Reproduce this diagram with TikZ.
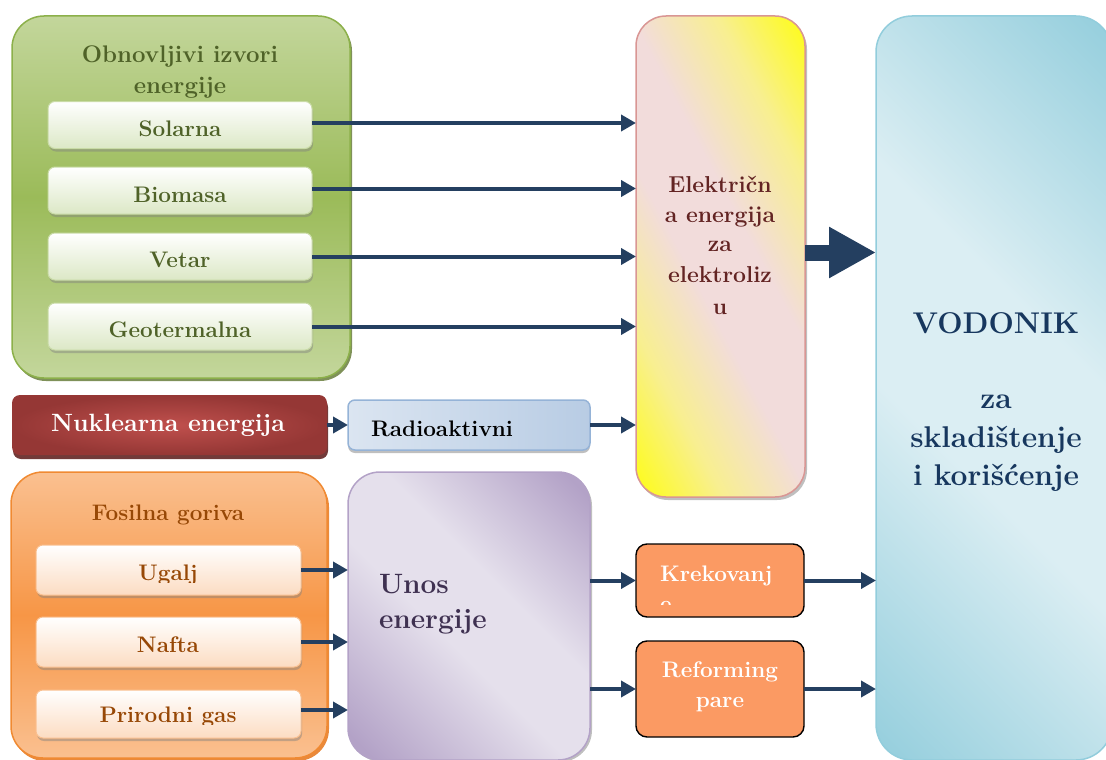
\documentclass[tikz,border=0pt]{standalone}
\usetikzlibrary{arrows.meta,shadows}
\definecolor{arrowc}{HTML}{243F60}
\definecolor{gtop}{HTML}{C3D69B}
\definecolor{gmid}{HTML}{9BBB59}
\definecolor{gedge}{HTML}{8CB04A}
\definecolor{gshad}{HTML}{5F7530}
\definecolor{gbot}{HTML}{DCE8C6}
\definecolor{giedge}{HTML}{C9DBA6}
\definecolor{gtext}{HTML}{4F6228}
\definecolor{nukout}{HTML}{953735}
\definecolor{nukin}{HTML}{C0504D}
\definecolor{nukshad}{HTML}{632523}
\definecolor{radl}{HTML}{DBE5F1}
\definecolor{radd}{HTML}{B8CCE4}
\definecolor{radedge}{HTML}{95B3D7}
\definecolor{ftop}{HTML}{FAC090}
\definecolor{fmid}{HTML}{F79646}
\definecolor{fedge}{HTML}{F08A32}
\definecolor{fshad}{HTML}{E46C0A}
\definecolor{fbot}{HTML}{FCDCC2}
\definecolor{fiedge}{HTML}{FAC090}
\definecolor{ftext}{HTML}{974806}
\definecolor{ud}{HTML}{B3A2C7}
\definecolor{ul}{HTML}{E5E0EC}
\definecolor{utext}{HTML}{3F3151}
\definecolor{ylw}{HTML}{FFFF00}
\definecolor{ylw2}{HTML}{F8EF90}
\definecolor{pnk}{HTML}{F2DCDB}
\definecolor{eedge}{HTML}{D99694}
\definecolor{etext}{HTML}{632423}
\definecolor{vd}{HTML}{92CDDC}
\definecolor{vl}{HTML}{DBEEF3}
\definecolor{vtext}{HTML}{17375E}
\definecolor{krekc}{HTML}{FB9A63}
\pgfdeclarehorizontalshading{elecshade}{100bp}{color(0bp)=(ylw); color(14bp)=(ylw); color(30bp)=(ylw2); color(44bp)=(pnk); color(56bp)=(pnk); color(70bp)=(ylw2); color(86bp)=(ylw); color(100bp)=(ylw)}
\pgfdeclarehorizontalshading{unosshade}{100bp}{color(0bp)=(ud); color(18bp)=(ud); color(44bp)=(ul); color(58bp)=(ul); color(82bp)=(ud); color(100bp)=(ud)}
\pgfdeclarehorizontalshading{vodshade}{100bp}{color(0bp)=(vd); color(14bp)=(vd); color(42bp)=(vl); color(58bp)=(vl); color(86bp)=(vd); color(100bp)=(vd)}
\newcommand\fntTitle{\fontsize{24}{28}\selectfont\bfseries}
\newcommand\fntItem{\fontsize{22.5}{26}\selectfont\bfseries}
\newcommand\fntNuk{\fontsize{25}{30}\selectfont\bfseries}
\newcommand\fntEl{\fontsize{23}{28}\selectfont\bfseries}
\newcommand\fntUnos{\fontsize{28}{32}\selectfont\bfseries}
\newcommand\fntVod{\fontsize{30}{34}\selectfont\bfseries}
\begin{document}
\begin{tikzpicture}[x=1pt,y=-1pt,
  every node/.style={inner sep=0pt,outer sep=0pt},
  arr/.style={draw=arrowc,line width=4pt,-{Triangle[length=15pt,width=16pt]}},
  bigarr/.style={draw=arrowc,line width=16pt,-{Triangle[length=47pt,width=48pt]}},
  gitem/.style={rounded corners=7pt,draw=giedge,line width=1pt,top color=white,bottom color=gbot,
    minimum width=264pt,minimum height=47pt,
    drop shadow={shadow xshift=1pt,shadow yshift=-3pt,fill=gray,opacity=.45}},
  fitem/.style={rounded corners=7pt,draw=fiedge,line width=1pt,top color=white,bottom color=fbot,
    minimum width=265pt,minimum height=50pt,
    drop shadow={shadow xshift=1pt,shadow yshift=-3pt,fill=gray,opacity=.45}},
  gtxt/.style={anchor=base,font=\fntItem,text=gtext},
  ftxt/.style={anchor=base,font=\fntItem,text=ftext},
  etxt/.style={anchor=base,font=\fntEl,text=etext},
  vtxt/.style={anchor=base,font=\fntVod,text=vtext},
  wtxt/.style={anchor=base,font=\fntItem,text=white},
  orbox/.style={rounded corners=11pt,draw=black,line width=1.4pt,fill=krekc,minimum width=168pt}
]
\useasboundingbox (0,0) rectangle (1106,760);

% ---------- green group ----------
\node[rounded corners=32pt,draw=gedge,line width=1.5pt,top color=gtop,bottom color=gtop,middle color=gmid,
  minimum width=338pt,minimum height=362pt,
  drop shadow={shadow xshift=2pt,shadow yshift=-3pt,fill=gshad,opacity=.8}] (green) at (181,197) {};
\node[anchor=base,font=\fntTitle,text=gtext] (gT1) at (180,63) {Obnovljivi izvori};
\node[anchor=base,font=\fntTitle,text=gtext] (gT2) at (180,93) {energije};
\node[gitem] (sol) at (180,125) {};
\node[gitem] (bio) at (180,190.5) {};
\node[gitem] (vet) at (180,256.5) {};
\node[gitem] (geo) at (180,326.5) {};
\node[gtxt] (solT) at (180,136) {Solarna};
\node[gtxt] (bioT) at (180,202) {Biomasa};
\node[gtxt] (vetT) at (180,267) {Vetar};
\node[gtxt] (geoT) at (180,337) {Geotermalna};

% ---------- nuclear ----------
\node[rounded corners=8pt,inner color=nukin,outer color=nukout,minimum width=315pt,minimum height=60pt,
  drop shadow={shadow xshift=1pt,shadow yshift=-4pt,fill=nukshad,opacity=.9}] (nuk) at (169.5,425) {};
\node[anchor=base,font=\fntNuk,text=white] (nukT) at (168,431) {Nuklearna energija};
\node[rounded corners=7pt,draw=radedge,line width=1.5pt,left color=radl,right color=radd,
  minimum width=242pt,minimum height=50pt,
  drop shadow={shadow xshift=0pt,shadow yshift=-3pt,fill=gray,opacity=.5}] (rad) at (469,425) {};
\node[anchor=base west,font=\fntItem,text=black] (radT) at (371,436) {Radioaktivni};

% ---------- fossil ----------
\node[rounded corners=32pt,draw=fedge,line width=1.5pt,top color=ftop,bottom color=ftop,middle color=fmid,
  minimum width=316pt,minimum height=286pt,
  drop shadow={shadow xshift=2pt,shadow yshift=-3pt,fill=fshad,opacity=.8}] (fos) at (169,615) {};
\node[ftxt] (fosT) at (168,520) {Fosilna goriva};
\node[fitem] (uga) at (168.5,570) {};
\node[fitem] (naf) at (168.5,642) {};
\node[fitem,minimum height=48pt] (pri) at (168.5,714) {};
\begin{scope}
  \clip (36,545) rectangle (301,582);
  \node[ftxt] (ugaT) at (168,580) {Ugalj};
\end{scope}
\node[ftxt] (nafT) at (168,652) {Nafta};
\begin{scope}
  \clip (36,690) rectangle (301,724);
  \node[ftxt] (priT) at (168,722) {Prirodni gas};
\end{scope}

% ---------- unos ----------
\node[rounded corners=32pt,draw=ud,line width=1.5pt,shade,shading=unosshade,shading angle=45,
  minimum width=242pt,minimum height=288pt,
  drop shadow={shadow xshift=2pt,shadow yshift=-2pt,fill=gray,opacity=.5}] (unos) at (469,616) {};
\node[anchor=base west,font=\fntUnos,text=utext] (unosT1) at (379,593) {Unos};
\node[anchor=base west,font=\fntUnos,text=utext] (unosT2) at (379,628) {energije};

% ---------- elektricna ----------
\node[rounded corners=30pt,draw=eedge,line width=1.5pt,shade,shading=elecshade,shading angle=28,
  minimum width=169pt,minimum height=481pt,
  drop shadow={shadow xshift=2pt,shadow yshift=-3pt,fill=gray,opacity=.5}] (elec) at (720.5,256.5) {};
\node[etxt] (eT1) at (720,192) {Električn};
\node[etxt] (eT2) at (720,222) {a energija};
\node[etxt] (eT3) at (720,251) {za};
\node[etxt] (eT4) at (720,282) {elektroliz};
\node[etxt] (eT5) at (720,314) {u};

% ---------- vodonik ----------
\node[rounded corners=36pt,draw=vd,line width=1.5pt,shade,shading=vodshade,shading angle=45,
  minimum width=236pt,minimum height=744pt] (vod) at (994,388) {};
\node[vtxt] (vT1) at (996,333) {VODONIK};
\node[vtxt] (vT2) at (996,408) {za};
\node[vtxt] (vT3) at (996,447) {skladištenje};
\node[vtxt] (vT4) at (996,485) {i korišćenje};

% ---------- krekovanje / reforming ----------
\node[orbox,minimum height=73pt] (krek) at (720,580.5) {};
\begin{scope}
  \clip (637,545) rectangle (803,604);
  \node[wtxt,anchor=base west] (krT1) at (660,581) {Krekovanj};
  \node[wtxt,anchor=base west] (krT2) at (660,611) {e};
\end{scope}
\node[orbox,minimum height=96pt] (ref) at (720,689) {};
\node[wtxt] (refT1) at (720,677) {Reforming};
\node[wtxt] (refT2) at (720,707) {pare};

% ---------- arrows ----------
\draw[arr] ([yshift=2pt]sol.east) -- ([yshift=2pt]sol.east -| elec.west);
\draw[arr] ([yshift=2pt]bio.east) -- ([yshift=2pt]bio.east -| elec.west);
\draw[arr] (vet.east) -- (vet.east -| elec.west);
\draw[arr] (geo.east) -- (geo.east -| elec.west);
\draw[arr] (nuk.east) -- (rad.west);
\draw[arr] (rad.east) -- (rad.east -| elec.west);
\draw[arr] (uga.east) -- (uga.east -| unos.west);
\draw[arr] (naf.east) -- (naf.east -| unos.west);
\draw[arr] ([yshift=4pt]pri.east) -- ([yshift=4pt]pri.east -| unos.west);
\draw[arr] (unos.east |- krek.west) -- (krek.west);
\draw[arr] (unos.east |- ref.west) -- (ref.west);
\draw[arr] (krek.east) -- (krek.east -| vod.west);
\draw[arr] (ref.east) -- (ref.east -| vod.west);
\draw[bigarr] ([yshift=4pt]elec.east) -- ([yshift=4pt]elec.east -| vod.west);
\end{tikzpicture}
\end{document}
